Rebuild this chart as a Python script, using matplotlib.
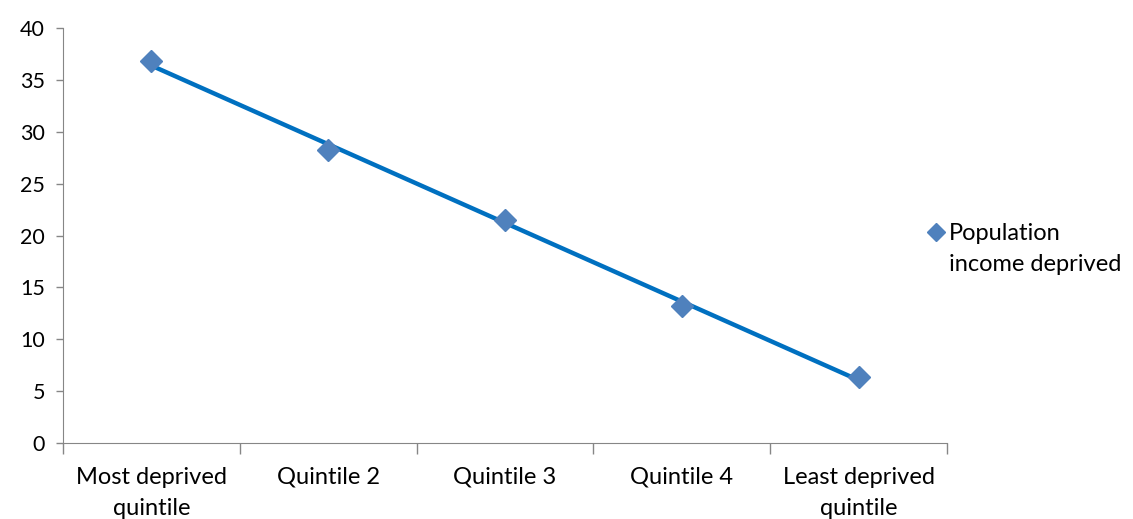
import numpy as np
import matplotlib.pyplot as plt
from matplotlib.lines import Line2D

plt.rcParams['font.family'] = ['Lato', 'DejaVu Sans']

categories = ['Most deprived\nquintile', 'Quintile 2', 'Quintile 3', 'Quintile 4', 'Least deprived\nquintile']
income_deprived = [36.8, 28.2, 21.5, 13.2, 6.4]

x = np.arange(1, len(categories) + 1)
slope, intercept = np.polyfit(x, income_deprived, 1)

fig = plt.figure(figsize=(11.33, 5.19), dpi=100)
ax = fig.add_axes([0.0556, 0.1464, 0.7802, 0.7996])

# linear trend across the quintiles
ax.plot([x[0], x[-1]], [slope * x[0] + intercept, slope * x[-1] + intercept],
        color='#0070C0', lw=3.2, solid_capstyle='round', zorder=2)
ax.plot(x, income_deprived, ls='none', marker='D', ms=11, color='#4F81BD', zorder=3)

ax.set_xlim(0.5, 5.5)
ax.set_ylim(0, 40)
ax.set_yticks(range(0, 41, 5))
ax.set_xticks(np.arange(0.5, 6, 1))
ax.set_xticklabels([])
ax.set_xticks(x, minor=True)
ax.set_xticklabels(categories, minor=True, fontsize=17, linespacing=1.6)
ax.tick_params(axis='x', which='minor', length=0, pad=17)
ax.tick_params(axis='x', which='major', length=8, color='#868686', width=1)
ax.tick_params(axis='y', length=5, color='#868686', width=1, labelsize=15.5, pad=8)

for s in ['top', 'right']:
    ax.spines[s].set_visible(False)
for s in ['left', 'bottom']:
    ax.spines[s].set_color('#868686')

handle = Line2D([], [], ls='none', marker='D', ms=9, color='#4F81BD')
blank = Line2D([], [], ls='none')
ax.legend([handle, blank], ['Population', 'income deprived'], loc='upper left',
          bbox_to_anchor=(0.817, 0.57), bbox_transform=fig.transFigure,
          frameon=False, fontsize=17, handletextpad=0.1, handlelength=0.9,
          labelspacing=0.4, borderaxespad=0, borderpad=0)

fig.savefig('out.png', dpi=100)
